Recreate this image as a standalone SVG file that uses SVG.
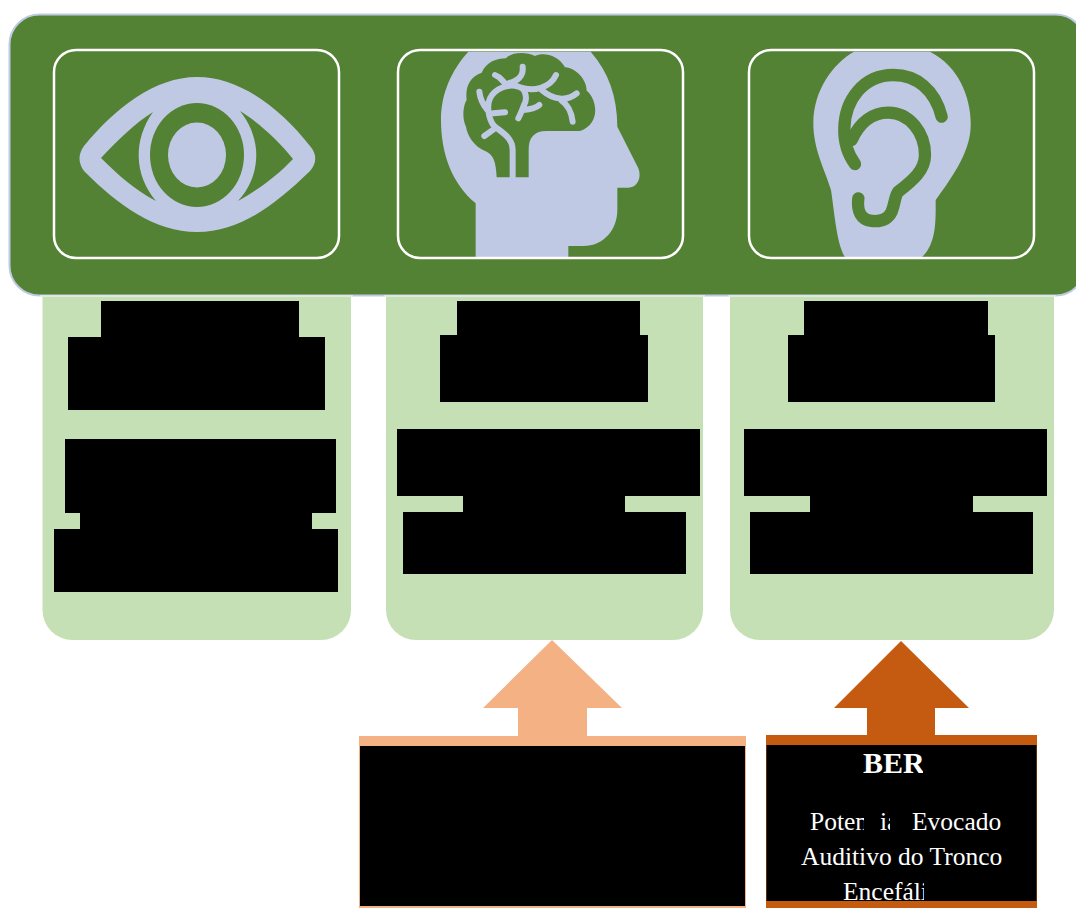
<svg xmlns="http://www.w3.org/2000/svg" width="1076" height="908" viewBox="0 0 1076 908">
<style>
.b{fill:#bfc9e3}
.g{fill:#548235}
.fr{fill:none;stroke:#fff;stroke-width:2.500}
.p{fill:#c5e0b4}
.k{fill:#000}
.br{fill:none;stroke:#bfc9e3;stroke-width:18;stroke-linecap:round;stroke-linejoin:round}
.er{fill:none;stroke:#548235;stroke-width:37;stroke-linecap:round;stroke-linejoin:round}
text{font-family:"Liberation Serif","Times New Roman",serif;fill:#fff;font-size:25.500px}
.h{font-size:30px;font-weight:bold}
</style>
<rect width="1076" height="908" fill="#fff"/>
<g id="panel-1"><path class="p" d="M42.500 295.500H351V610a30 30 0 0 1-30 30H72.500a30 30 0 0 1-30-30Z"/>
<path class="k" d="M101 301H299V337H325V410H68V337H101ZM65 439H336V513H312V529H338V592H54V529H80V513H65Z"/></g>
<g id="panel-2"><path class="p" d="M386 295.500H703V610a30 30 0 0 1-30 30H416a30 30 0 0 1-30-30Z"/>
<path class="k" d="M457 301H640V335H648V402H440V335H457ZM397 429H700V496H625V512H686V574H403V512H463V496H397Z"/></g>
<g id="panel-3"><path class="p" d="M730 295.500H1054V610a30 30 0 0 1-30 30H760a30 30 0 0 1-30-30Z"/>
<path class="k" d="M804 301H988V335H995V402H788V335H804ZM744 429H1047V496H973V512H1033V574H750V512H810V496H744Z"/></g>
<g id="header">
<rect x="9.500" y="14.500" width="1076" height="281" rx="30" class="g" stroke="#bfc9e3" stroke-width="2"/>
<path d="M40 296H353M384 296H705M728 296H1056" fill="none" stroke="#e8f1e2" stroke-width="1.500"/>
</g>
<g id="icon-eye">
<path class="b" d="M84 146C115 108 155 77 197 77C240 77 280 108 310 146C317 154 317 163 310 171C275 205 240 232 197 232C155 232 118 205 84 171C78 163 78 154 84 146Z"/>
<path class="g" d="M101 158C118 140 135 123 153 112C133 140 134 175 156 201C135 190 118 175 101 158Z"/>
<path class="g" d="M293 159C278 140 258 122 240 111C262 138 262 175 238 201C258 190 278 175 293 159Z"/>
<ellipse class="g" cx="197" cy="155" rx="47" ry="52"/>
<ellipse class="b" cx="197" cy="155" rx="29" ry="32.500"/>
<rect class="fr" x="54" y="50" width="285" height="208" rx="22"/>
</g>
<g id="icon-brain">
<g transform="translate(380 30) scale(.33333)">
<path class="b" d="M265 65H632C685 125 712 200 712 290L775 415C785 440 775 472 745 473H712V540C712 600 670 648 610 648H565V682H287V520C215 460 183 370 183 270C183 190 215 120 265 65Z"/>
<path class="g" d="M350 442C348 395 340 375 320 365C280 350 262 315 258 290C245 265 250 225 260 210C255 170 270 140 305 128C320 95 350 85 378 85C395 65 440 65 465 78C490 65 535 75 555 112C590 115 620 150 620 182C650 205 665 280 600 303H500C460 303 446 325 446 360V442Z"/>
<path class="br" stroke-linecap="butt" d="M398 442V360C398 320 360 305 340 285"/>
<path class="br" d="M340 285C325 265 320 225 330 205C345 175 385 160 415 170C440 175 442 210 432 225C425 245 420 255 415 265M298 185C300 205 310 225 322 240M340 250L375 247M345 295L313 318M430 240C450 238 470 232 478 225M345 135C360 140 365 150 375 160M428 110C430 130 425 150 385 160M420 172C460 185 510 175 528 135M485 180C520 210 560 215 590 190M545 212C565 225 575 250 578 275"/>
</g>
<rect class="fr" x="398" y="50" width="285" height="208" rx="22"/>
</g>
<g id="icon-ear">
<g transform="translate(730 30) scale(.33333)">
<path class="b" d="M372 65H600C690 110 725 210 722 290C720 370 660 450 617 510C617 570 620 640 575 682H345C320 640 315 560 303 480C285 420 250 360 250 280C250 180 310 100 372 65Z"/>
<path class="er" d="M635 260C615 180 560 135 490 135C400 135 345 210 343 295C342 340 355 375 375 402"/>
<path class="er" d="M365 330C390 275 430 248 475 248C540 248 585 310 585 375C585 420 550 450 505 485C495 495 495 520 485 545C470 575 440 575 420 572C395 568 380 545 385 505"/>
</g>
<rect class="fr" x="749" y="50" width="285" height="208" rx="22"/>
</g>
<g id="box-light">
<rect x="359" y="736" width="387" height="172" fill="#f4b183"/>
<rect class="k" x="360" y="746" width="385" height="160"/>
</g>
<g id="box-dark">
<rect x="766" y="735" width="271" height="173" fill="#c55a11"/>
<rect class="k" x="766.500" y="745" width="270" height="156"/>
<text class="h" x="863" y="773">BER</text>
<text x="810" y="830">Poten</text>
<text x="880" y="830">ia</text>
<text x="912" y="830">Evocado</text>
<text x="801" y="865">Auditivo do Tronco</text>
<text x="843" y="900">Encefáli</text>
<path class="k" d="M923 750H940V780H923ZM864 808H880V838H864ZM890 808H911V838H890ZM924 878H960V901H924Z"/>
<rect x="766" y="901" width="271" height="7" fill="#c55a11"/>
</g>
<g id="connectors">
<path d="M552 640L483 708H518V736H587V708H622Z" fill="#f4b183"/>
<path d="M901 641L834 708H867V735H935V708H969Z" fill="#c55a11"/>
</g>
</svg>
